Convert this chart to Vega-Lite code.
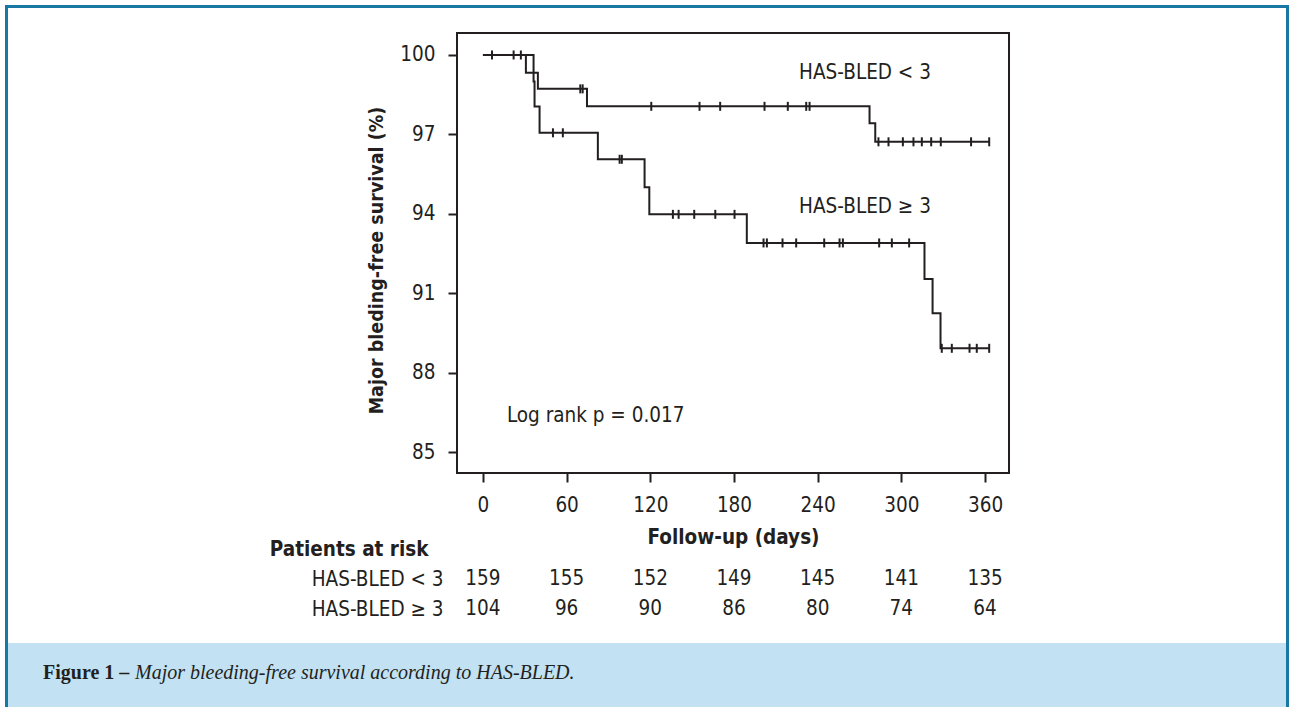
{
  "$schema": "https://vega.github.io/schema/vega-lite/v6.json",
  "padding": {"left": 5, "top": 5, "right": 4, "bottom": 0},
  "background": "white",
  "config": {
    "view": {"stroke": null},
    "axis": {
      "labelFont": "DejaVu Sans Condensed, Liberation Sans",
      "titleFont": "DejaVu Sans Condensed, Liberation Sans",
      "labelFontSize": 20.5,
      "titleFontSize": 20.5,
      "labelColor": "#231f20",
      "titleColor": "#231f20",
      "tickColor": "#231f20",
      "grid": false,
      "domain": false
    }
  },
  "datasets": {
    "km": [
      {"group": "HAS-BLED < 3", "day": 0, "surv": 100},
      {"group": "HAS-BLED < 3", "day": 30.8, "surv": 99.33},
      {"group": "HAS-BLED < 3", "day": 39.4, "surv": 98.72},
      {"group": "HAS-BLED < 3", "day": 74.6, "surv": 98.06},
      {"group": "HAS-BLED < 3", "day": 277.2, "surv": 97.42},
      {"group": "HAS-BLED < 3", "day": 281.3, "surv": 96.72},
      {"group": "HAS-BLED < 3", "day": 363, "surv": 96.72},
      {"group": "HAS-BLED ≥ 3", "day": 0, "surv": 100},
      {"group": "HAS-BLED ≥ 3", "day": 36.3, "surv": 99.0},
      {"group": "HAS-BLED ≥ 3", "day": 37.0, "surv": 98.05},
      {"group": "HAS-BLED ≥ 3", "day": 40.6, "surv": 97.06},
      {"group": "HAS-BLED ≥ 3", "day": 82.4, "surv": 96.06},
      {"group": "HAS-BLED ≥ 3", "day": 115.9, "surv": 95.0},
      {"group": "HAS-BLED ≥ 3", "day": 119.3, "surv": 93.98},
      {"group": "HAS-BLED ≥ 3", "day": 189.2, "surv": 92.9},
      {"group": "HAS-BLED ≥ 3", "day": 316.6, "surv": 91.54},
      {"group": "HAS-BLED ≥ 3", "day": 322.4, "surv": 90.24},
      {"group": "HAS-BLED ≥ 3", "day": 328.1, "surv": 88.92},
      {"group": "HAS-BLED ≥ 3", "day": 363, "surv": 88.92}
    ],
    "censor": [
      {"group": "HAS-BLED < 3", "day": 6.5, "surv": 100},
      {"group": "HAS-BLED < 3", "day": 22, "surv": 100},
      {"group": "HAS-BLED < 3", "day": 27.2, "surv": 100},
      {"group": "HAS-BLED < 3", "day": 69.8, "surv": 98.72},
      {"group": "HAS-BLED < 3", "day": 71.5, "surv": 98.72},
      {"group": "HAS-BLED < 3", "day": 120.7, "surv": 98.06},
      {"group": "HAS-BLED < 3", "day": 155.3, "surv": 98.06},
      {"group": "HAS-BLED < 3", "day": 170.1, "surv": 98.06},
      {"group": "HAS-BLED < 3", "day": 201.9, "surv": 98.06},
      {"group": "HAS-BLED < 3", "day": 218.6, "surv": 98.06},
      {"group": "HAS-BLED < 3", "day": 231.8, "surv": 98.06},
      {"group": "HAS-BLED < 3", "day": 234.2, "surv": 98.06},
      {"group": "HAS-BLED < 3", "day": 283.6, "surv": 96.72},
      {"group": "HAS-BLED < 3", "day": 290.8, "surv": 96.72},
      {"group": "HAS-BLED < 3", "day": 301.1, "surv": 96.72},
      {"group": "HAS-BLED < 3", "day": 308.7, "surv": 96.72},
      {"group": "HAS-BLED < 3", "day": 314.7, "surv": 96.72},
      {"group": "HAS-BLED < 3", "day": 321.4, "surv": 96.72},
      {"group": "HAS-BLED < 3", "day": 328.3, "surv": 96.72},
      {"group": "HAS-BLED < 3", "day": 350, "surv": 96.72},
      {"group": "HAS-BLED < 3", "day": 363, "surv": 96.72},
      {"group": "HAS-BLED ≥ 3", "day": 50.2, "surv": 97.06},
      {"group": "HAS-BLED ≥ 3", "day": 57.3, "surv": 97.06},
      {"group": "HAS-BLED ≥ 3", "day": 98, "surv": 96.06},
      {"group": "HAS-BLED ≥ 3", "day": 99.6, "surv": 96.06},
      {"group": "HAS-BLED ≥ 3", "day": 136.2, "surv": 93.98},
      {"group": "HAS-BLED ≥ 3", "day": 140.3, "surv": 93.98},
      {"group": "HAS-BLED ≥ 3", "day": 151.5, "surv": 93.98},
      {"group": "HAS-BLED ≥ 3", "day": 166.6, "surv": 93.98},
      {"group": "HAS-BLED ≥ 3", "day": 180.4, "surv": 93.98},
      {"group": "HAS-BLED ≥ 3", "day": 201.2, "surv": 92.9},
      {"group": "HAS-BLED ≥ 3", "day": 203.6, "surv": 92.9},
      {"group": "HAS-BLED ≥ 3", "day": 214.8, "surv": 92.9},
      {"group": "HAS-BLED ≥ 3", "day": 224.6, "surv": 92.9},
      {"group": "HAS-BLED ≥ 3", "day": 244.7, "surv": 92.9},
      {"group": "HAS-BLED ≥ 3", "day": 255.7, "surv": 92.9},
      {"group": "HAS-BLED ≥ 3", "day": 258.1, "surv": 92.9},
      {"group": "HAS-BLED ≥ 3", "day": 284.1, "surv": 92.9},
      {"group": "HAS-BLED ≥ 3", "day": 293.2, "surv": 92.9},
      {"group": "HAS-BLED ≥ 3", "day": 305.6, "surv": 92.9},
      {"group": "HAS-BLED ≥ 3", "day": 329, "surv": 88.92},
      {"group": "HAS-BLED ≥ 3", "day": 336.2, "surv": 88.92},
      {"group": "HAS-BLED ≥ 3", "day": 348.9, "surv": 88.92},
      {"group": "HAS-BLED ≥ 3", "day": 354.1, "surv": 88.92},
      {"group": "HAS-BLED ≥ 3", "day": 363, "surv": 88.92}
    ],
    "notes": [
      {"label": "HAS-BLED < 3", "day": 226.7, "surv": 99.08},
      {"label": "HAS-BLED ≥ 3", "day": 226.7, "surv": 94.02},
      {"label": "Log rank p = 0.017", "day": 17.2, "surv": 86.15}
    ],
    "risk": [
      {"row": "HAS-BLED < 3", "day": 0, "n": 159},
      {"row": "HAS-BLED < 3", "day": 60, "n": 155},
      {"row": "HAS-BLED < 3", "day": 120, "n": 152},
      {"row": "HAS-BLED < 3", "day": 180, "n": 149},
      {"row": "HAS-BLED < 3", "day": 240, "n": 145},
      {"row": "HAS-BLED < 3", "day": 300, "n": 141},
      {"row": "HAS-BLED < 3", "day": 360, "n": 135},
      {"row": "HAS-BLED ≥ 3", "day": 0, "n": 104},
      {"row": "HAS-BLED ≥ 3", "day": 60, "n": 96},
      {"row": "HAS-BLED ≥ 3", "day": 120, "n": 90},
      {"row": "HAS-BLED ≥ 3", "day": 180, "n": 86},
      {"row": "HAS-BLED ≥ 3", "day": 240, "n": 80},
      {"row": "HAS-BLED ≥ 3", "day": 300, "n": 74},
      {"row": "HAS-BLED ≥ 3", "day": 360, "n": 64}
    ],
    "caption1": [{"t": "Figure 1 –"}],
    "caption2": [{"t": "Major bleeding-free survival according to HAS-BLED."}],
    "empty": []
  },
  "spacing": 0,
  "hconcat": [
    {
      "width": 3, "height": 702,
      "data": {"name": "empty"},
      "mark": "point", "encoding": {},
      "view": {"fill": "#1878a3", "stroke": null}
    },
    {
      "spacing": 0,
      "vconcat": [
        {
          "width": 1278, "height": 3,
          "data": {"name": "empty"},
          "mark": "point", "encoding": {},
          "view": {"fill": "#1878a3", "stroke": null}
        },
        {
          "width": 1, "height": 24,
          "data": {"name": "empty"},
          "mark": "point", "encoding": {}
        },
        {
          "spacing": 0,
          "hconcat": [
            {
              "width": 260, "height": 1,
              "data": {"name": "empty"},
              "mark": "point", "encoding": {}
            },
            {
              "width": 552, "height": 440,
              "view": {"stroke": "#231f20", "strokeWidth": 2},
              "resolve": {"scale": {"y": "independent"}, "axis": {"y": "independent"}},
              "layer": [
                {
                  "layer": [
                    {
                      "data": {"name": "km"},
                      "mark": {"type": "line", "interpolate": "step-after", "color": "#231f20", "strokeWidth": 2},
                      "encoding": {
                        "x": {
                          "field": "day", "type": "quantitative",
                          "scale": {"domain": [-18.6, 377.2], "nice": false, "zero": false},
                          "axis": {
                            "values": [0, 60, 120, 180, 240, 300, 360],
                            "tickSize": 9, "tickWidth": 2,
                            "labelPadding": 13, "labelFlush": false, "labelOverlap": false,
                            "title": "Follow-up (days)", "titleFontWeight": "bold", "titlePadding": 12
                          }
                        },
                        "y": {
                          "field": "surv", "type": "quantitative",
                          "scale": {"domain": [84.21, 100.83], "nice": false, "zero": false},
                          "axis": {
                            "orient": "left",
                            "values": [85, 88, 91, 94, 97, 100],
                            "tickSize": 9, "tickWidth": 2,
                            "labelPadding": 13, "labelFlush": false, "labelOverlap": false,
                            "title": "Major bleding-free survival (%)", "titleFontWeight": "bold",
                            "titleFontSize": 19.5, "titlePadding": 13, "titleY": 227
                          }
                        },
                        "detail": {"field": "group", "type": "nominal"}
                      }
                    },
                    {
                      "data": {"name": "censor"},
                      "mark": {"type": "tick", "orient": "vertical", "size": 9, "thickness": 2, "color": "#231f20", "opacity": 1},
                      "encoding": {
                        "x": {"field": "day", "type": "quantitative"},
                        "y": {"field": "surv", "type": "quantitative"}
                      }
                    },
                    {
                      "data": {"name": "notes"},
                      "mark": {"type": "text", "align": "left", "baseline": "alphabetic", "font": "DejaVu Sans Condensed, Liberation Sans", "fontSize": 20.5, "color": "#231f20"},
                      "encoding": {
                        "x": {"field": "day", "type": "quantitative"},
                        "y": {"field": "surv", "type": "quantitative"},
                        "text": {"field": "label", "type": "nominal"}
                      }
                    }
                  ]
                },
                {
                  "data": {"name": "risk"},
                  "mark": {"type": "text", "font": "DejaVu Sans Condensed, Liberation Sans", "fontSize": 20.5, "color": "#231f20", "baseline": "middle", "align": "center"},
                  "encoding": {
                    "x": {"field": "day", "type": "quantitative"},
                    "y": {
                      "field": "row", "type": "nominal",
                      "scale": {"type": "point", "padding": 0.5, "range": [501, 591], "domain": ["Patients at risk", "HAS-BLED < 3", "HAS-BLED ≥ 3"]},
                      "axis": {
                        "orient": "left",
                        "title": null, "ticks": false, "domain": false,
                        "labelFontWeight": {"condition": {"test": "datum.value === 'Patients at risk'", "value": "bold"}, "value": "normal"},
                        "labelPadding": {"condition": {"test": "datum.value === 'Patients at risk'", "value": 29}, "value": 14}
                      }
                    },
                    "text": {"field": "n", "type": "nominal"}
                  }
                }
              ]
            }
          ]
        },
        {
          "width": 1, "height": 22,
          "data": {"name": "empty"},
          "mark": "point", "encoding": {}
        },
        {
          "width": 1278, "height": 65,
          "view": {"fill": "#c2e2f3", "stroke": null},
          "layer": [
            {
              "data": {"name": "caption1"},
              "mark": {"type": "text", "font": "Liberation Serif", "fontSize": 20, "fontWeight": "bold", "align": "left", "baseline": "middle", "color": "#231f20"},
              "encoding": {"x": {"value": 35}, "y": {"value": 30}, "text": {"field": "t", "type": "nominal"}}
            },
            {
              "data": {"name": "caption2"},
              "mark": {"type": "text", "font": "Liberation Serif", "fontSize": 20, "fontStyle": "italic", "align": "left", "baseline": "middle", "color": "#231f20"},
              "encoding": {"x": {"value": 127}, "y": {"value": 30}, "text": {"field": "t", "type": "nominal"}}
            }
          ]
        }
      ]
    },
    {
      "width": 3, "height": 702,
      "data": {"name": "empty"},
      "mark": "point", "encoding": {},
      "view": {"fill": "#1878a3", "stroke": null}
    }
  ]
}
